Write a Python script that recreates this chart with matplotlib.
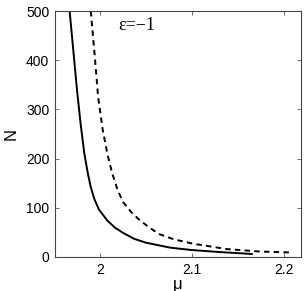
import numpy as np
from matplotlib import pyplot as plt

plt.rcParams['font.family'] = 'Liberation Sans'
plt.rcParams['font.size'] = 10

# solid curve (mu, N)
mu_solid = [1.967, 1.971, 1.975, 1.979, 1.983, 1.987, 1.990, 1.994, 1.999,
            2.008, 2.016, 2.025, 2.037, 2.050, 2.076, 2.100, 2.130, 2.165]
n_solid = [500, 420, 340, 270, 210, 168, 142, 117, 96,
           74, 60, 49, 37, 29, 19, 14, 10, 6]

# dashed curve (mu, N)
mu_dash = [1.990, 1.994, 1.998, 2.003, 2.008, 2.013, 2.019, 2.025, 2.034,
           2.043, 2.055, 2.065, 2.080, 2.101, 2.138, 2.174, 2.209]
n_dash = [500, 415, 325, 258, 210, 172, 137, 112, 91,
          75, 58, 46, 36, 27, 16, 11, 9]

xticks = [2, 2.1, 2.2]
xticklabels = ['2', '2.1', '2.2']
yticks = [0, 100, 200, 300, 400, 500]

fig = plt.figure(figsize=(3.05, 2.91), dpi=100)
ax = fig.add_axes([0.180, 0.117, 0.807, 0.845])

ax.plot(mu_solid, n_solid, c='k', lw=1.4, linestyle='-')
ax.plot(mu_dash, n_dash, c='k', lw=1.4, linestyle=(0, (2.8, 2.2)))

ax.set_xlim(1.951, 2.2185)
ax.set_ylim(0, 500)
ax.set_xticks(xticks)
ax.set_xticklabels(xticklabels)
ax.set_yticks(yticks)
ax.tick_params(direction='in', top=True, right=True, length=3, width=0.6,
               color='#555555', labelsize=10, pad=4)
for s in ax.spines.values():
    s.set_color('#444444')
    s.set_linewidth(0.8)

ax.set_xlabel('μ', fontsize=12, labelpad=0)
ax.set_ylabel('N', fontsize=12, labelpad=5)
ax.text(2.0196, 461, 'ε=−1', family='Liberation Serif', fontsize=13,
        ha='left', va='baseline')

plt.savefig('out.png', dpi=100)
